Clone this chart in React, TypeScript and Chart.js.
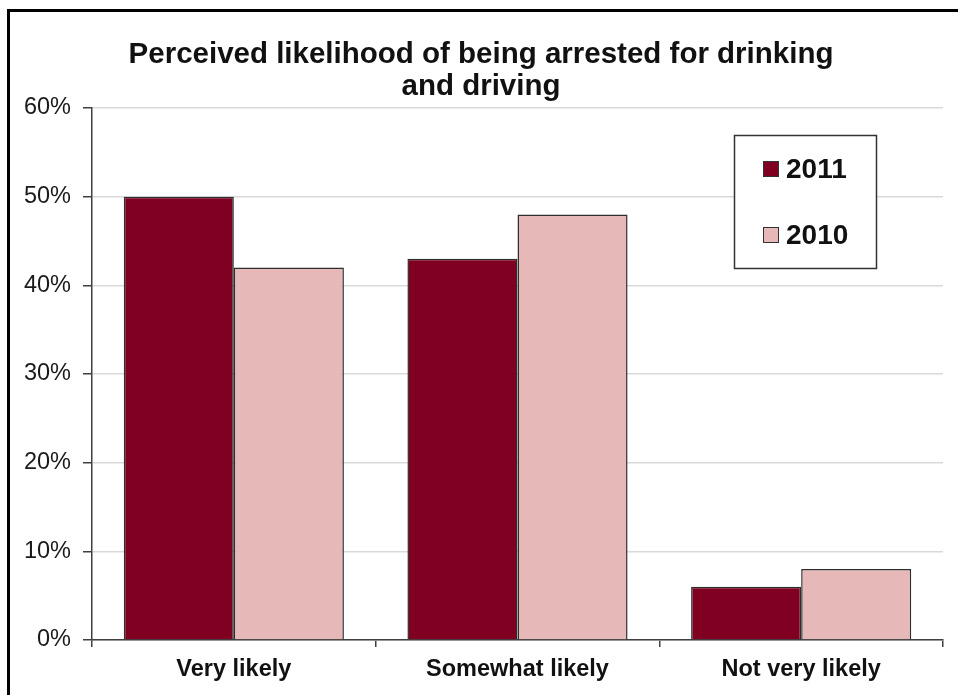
import React, { useEffect, useRef } from "react";
import { Chart, registerables } from "chart.js";

Chart.register(...registerables);

const categories = ["Very likely", "Somewhat likely", "Not very likely"];
const values2011 = [50, 43, 6];
const values2010 = [42, 48, 8];
const seriesLabels = ["2011", "2010"];
const seriesColors = ["#7F0020", "#E6B8B7"];
const yTicks = [0, 10, 20, 30, 40, 50, 60];
const titleLines = ["Perceived likelihood of being arrested for drinking", "and driving"];

const FONT = "'Liberation Sans', Arial, sans-serif";

// white background, outer frame and the two-line title
const framePlugin = {
  id: "frame",
  beforeDraw(chart: any) {
    const { ctx, width, height } = chart;
    ctx.save();
    ctx.fillStyle = "#ffffff";
    ctx.fillRect(0, 0, width, height);
    ctx.fillStyle = "#000000";
    ctx.fillRect(0, 2, 3, height);
    ctx.fillRect(0, 2, width, 3);
    ctx.fillStyle = "#111111";
    ctx.font = `bold 29.5px ${FONT}`;
    ctx.textAlign = "center";
    ctx.textBaseline = "alphabetic";
    ctx.fillText(titleLines[0], 474, 56);
    ctx.fillText(titleLines[1], 474, 88);
    ctx.restore();
  },
};

// boxed legend in the upper right of the plot
const legendBoxPlugin = {
  id: "legendBox",
  afterDraw(chart: any) {
    const { ctx } = chart;
    ctx.save();
    ctx.fillStyle = "#ffffff";
    ctx.fillRect(727, 128, 143, 134);
    ctx.strokeStyle = "#333333";
    ctx.lineWidth = 1.5;
    ctx.strokeRect(727.5, 128.5, 142, 133);
    const rows = [162, 228];
    chart.data.datasets.forEach((ds: any, i: number) => {
      const cy = rows[i];
      ctx.fillStyle = ds.backgroundColor;
      ctx.fillRect(756, cy - 8, 16, 16);
      ctx.strokeStyle = "#333333";
      ctx.lineWidth = 1;
      ctx.strokeRect(756.5, cy - 7.5, 15, 15);
      ctx.fillStyle = "#111111";
      ctx.font = `bold 28px ${FONT}`;
      ctx.textAlign = "left";
      ctx.textBaseline = "middle";
      ctx.fillText(ds.label, 779, cy + 1);
    });
    ctx.restore();
  },
};

export default function App() {
  const canvasRef = useRef<HTMLCanvasElement | null>(null);

  useEffect(() => {
    if (!canvasRef.current) return;
    const chart = new Chart(canvasRef.current, {
      type: "bar",
      data: {
        labels: categories,
        datasets: [
          {
            label: seriesLabels[0],
            data: values2011,
            backgroundColor: seriesColors[0],
            borderColor: "#2e2e2e",
            borderWidth: 1.5,
          },
          {
            label: seriesLabels[1],
            data: values2010,
            backgroundColor: seriesColors[1],
            borderColor: "#2e2e2e",
            borderWidth: 1.5,
          },
        ],
      },
      options: {
        animation: false,
        responsive: false,
        maintainAspectRatio: false,
        devicePixelRatio: 1,
        layout: { padding: { top: 101, right: 15, left: 0, bottom: 0 } },
        datasets: { bar: { categoryPercentage: 0.776, barPercentage: 1 } },
        plugins: {
          legend: { display: false },
          title: { display: false },
          tooltip: { enabled: false },
        },
        scales: {
          x: {
            afterFit(scale: any) {
              scale.height = 55;
            },
            grid: {
              display: true,
              offset: true,
              drawOnChartArea: false,
              tickLength: 7,
              tickColor: "#404040",
              lineWidth: 1.5,
            },
            border: { display: true, color: "#404040", width: 1.5 },
            ticks: {
              color: "#111111",
              font: { family: FONT, size: 23.5, weight: "bold" },
              padding: 8,
            },
          },
          y: {
            min: 0,
            max: 60,
            afterFit(scale: any) {
              scale.width = 85;
            },
            afterBuildTicks(scale: any) {
              scale.ticks = yTicks.map((v) => ({ value: v }));
            },
            grid: {
              color: "#d9d9d9",
              lineWidth: 1.5,
              tickLength: 9,
              tickColor: "#404040",
            },
            border: { display: true, color: "#404040", width: 1.5 },
            ticks: {
              color: "#1a1a1a",
              font: { family: FONT, size: 23.5 },
              padding: 12,
              callback: (v: any) => `${v}%`,
            },
          },
        },
      },
      plugins: [framePlugin, legendBoxPlugin],
    });
    return () => chart.destroy();
  }, []);

  return (
    <canvas
      ref={canvasRef}
      width={951}
      height={688}
      style={{ position: "absolute", left: 7, top: 7, width: 951, height: 688, display: "block" }}
    />
  );
}
